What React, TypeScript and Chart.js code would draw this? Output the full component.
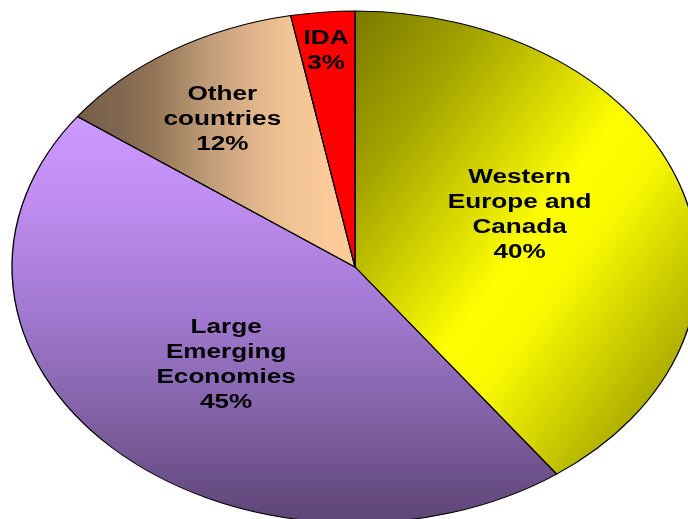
import React, { useEffect, useRef } from "react";
import { Chart, registerables } from "chart.js";

Chart.register(...registerables);

// ---- data ----
const categories = ["Western Europe and Canada", "Large Emerging Economies", "Other countries", "IDA"];
const shares = [40, 45, 12, 3];
const labelLines = [
  ["Western", "Europe and", "Canada"],
  ["Large", "Emerging", "Economies"],
  ["Other", "countries"],
  ["IDA"],
];

// ---- layout / style ----
const RADIUS = 256;
const STRETCH_X = 343 / 256;
const LABEL_RADIUS_FRAC = [0.521, 0.536, 0.695, 0.848];
const LABEL_ANGLE_SHIFT = [-4.9, -0.5, -1.4, -0.3];
const FONT = "bold 19.5px 'Liberation Sans', Arial, sans-serif";
const LINE_H = 25;

type Stop = [number, string];
const gradientSpecs: { a: number; b: number; c: number; stops: Stop[] }[] = [
  { a: 0.5, b: 0.2759, c: 0.2759, stops: [[0, "#7a7a00"], [0.2, "#a4a400"], [0.5, "#ffff00"], [0.6, "#f8f800"], [1, "#808000"]] },
  { a: 0, b: 0.6321, c: 0.3679, stops: [[0, "#cc99ff"], [0.2025, "#c08cf0"], [0.474, "#a27ad2"], [0.721, "#8463a8"], [1, "#5d4575"]] },
  { a: 1.2383, b: 0, c: 1, stops: [[0, "#776047"], [0.15, "#806650"], [0.29, "#967858"], [0.47, "#c09c79"], [0.65, "#e2b68b"], [0.77, "#f2c596"], [0.95, "#fdcb98"], [1, "#ffcc99"]] },
  { a: 0, b: 0, c: 0, stops: [] },
];
const solidColors = ["#e0e000", "#a27ad2", "#c09c79", "#ff0000"];

function linGrad(ctx: CanvasRenderingContext2D, cx: number, cy: number, R: number, a: number, b: number, c: number, stops: Stop[]) {
  const wx = a / R, wy = b / R;
  const w2 = wx * wx + wy * wy;
  const dx = wx / w2, dy = wy / w2;
  const g = ctx.createLinearGradient(cx - c * dx, cy - c * dy, cx + (1 - c) * dx, cy + (1 - c) * dy);
  stops.forEach(([o, col]) => g.addColorStop(o, col));
  return g;
}

const stretchPlugin = {
  id: "stretchPie",
  beforeDatasetsDraw(chart: any) {
    const ctx = chart.ctx;
    const ca = chart.chartArea;
    const cx = (ca.left + ca.right) / 2;
    ctx.save();
    ctx.translate(cx, 0);
    ctx.scale(STRETCH_X, 1);
    ctx.translate(-cx, 0);
  },
  afterDatasetsDraw(chart: any) {
    const ctx = chart.ctx;
    const meta = chart.getDatasetMeta(0);
    const total = shares.reduce((s, v) => s + v, 0);
    ctx.font = FONT;
    ctx.fillStyle = "#000";
    ctx.textAlign = "center";
    ctx.textBaseline = "middle";
    meta.data.forEach((arc: any, i: number) => {
      const { x, y, startAngle, endAngle, outerRadius } = arc.getProps(["x", "y", "startAngle", "endAngle", "outerRadius"], true);
      const mid = (startAngle + endAngle) / 2 + (LABEL_ANGLE_SHIFT[i] * Math.PI) / 180;
      const r = outerRadius * LABEL_RADIUS_FRAC[i];
      const lx = x + r * Math.cos(mid);
      const ly = y + r * Math.sin(mid);
      const lines = [...labelLines[i], `${Math.round((shares[i] / total) * 100)}%`];
      const y0 = ly - ((lines.length - 1) * LINE_H) / 2;
      lines.forEach((t, j) => ctx.fillText(t, lx, y0 + j * LINE_H));
    });
    ctx.restore();
  },
};

export default function App() {
  const ref = useRef<HTMLCanvasElement>(null);
  useEffect(() => {
    if (!ref.current) return;
    const chart = new Chart(ref.current, {
      type: "pie",
      data: {
        labels: categories,
        datasets: [
          {
            data: shares,
            radius: RADIUS,
            clip: false,
            borderColor: "#000000",
            borderWidth: 1,
            backgroundColor: (c: any) => {
              const i = c.dataIndex;
              const ca = c.chart.chartArea;
              const spec = gradientSpecs[i];
              if (!ca || !spec || spec.stops.length === 0) return solidColors[i];
              const cx = (ca.left + ca.right) / 2;
              const cy = (ca.top + ca.bottom) / 2;
              return linGrad(c.chart.ctx, cx, cy, RADIUS, spec.a, spec.b, spec.c, spec.stops);
            },
          } as any,
        ],
      },
      options: {
        responsive: false,
        maintainAspectRatio: false,
        animation: false,
        events: [],
        layout: { padding: { left: 98.5, right: 76.5, top: 10.5, bottom: 16.5 } },
        plugins: { legend: { display: false }, tooltip: { enabled: false } },
      },
      plugins: [stretchPlugin],
    });
    return () => chart.destroy();
  }, []);
  return (
    <div style={{ position: "absolute", left: 0, top: 0, width: 688, height: 519, overflow: "hidden", background: "#fff" }}>
      <canvas ref={ref} width={688} height={540} />
    </div>
  );
}
